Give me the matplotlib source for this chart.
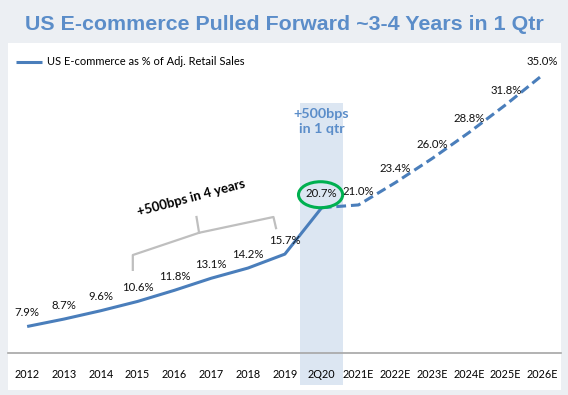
import matplotlib.pyplot as plt
from matplotlib.patches import Rectangle, Ellipse

# Data
periods = ['2012', '2013', '2014', '2015', '2016', '2017', '2018', '2019', '2Q20',
           '2021E', '2022E', '2023E', '2024E', '2025E', '2026E']
share = [7.9, 8.7, 9.6, 10.6, 11.8, 13.1, 14.2, 15.7, 20.7,
         21.0, 23.4, 26.0, 28.8, 31.8, 35.0]
actual_end = 8  # 2Q20 is the last actual point

blue = '#4a7ebb'
title_blue = '#5b8dc9'
font = ['Lato', 'DejaVu Sans']
plt.rcParams['font.family'] = font

fig = plt.figure(figsize=(5.68, 3.95), dpi=100, facecolor='#eceff3')
# white panel behind the chart
fig.add_artist(Rectangle((8 / 568, 5 / 395), 553 / 568, 347 / 395, transform=fig.transFigure,
                         facecolor='white', edgecolor='none', zorder=-10))

ax = fig.add_axes([8 / 568, 41.6 / 395, 553 / 568, 310.4 / 395])
ax.patch.set_alpha(0)
x = list(range(len(periods)))

# highlighted quarter band, running down through the tick labels
ax.add_patch(Rectangle((actual_end - 0.58, 1.6), 1.16, 30.4, facecolor='#dce6f2',
                       edgecolor='none', clip_on=False, zorder=0))

ax.plot(x[:actual_end + 1], share[:actual_end + 1], color=blue, lw=2.2,
        label='US E-commerce as % of Adj. Retail Sales', zorder=3, solid_capstyle='butt')
ax.plot(x[actual_end:], share[actual_end:], color=blue, lw=2.2, dashes=(3.2, 1.6), zorder=3)

for xi, v in zip(x, share):
    ax.annotate(f'{v:.1f}%', (xi, v), xytext=(0, 10), textcoords='offset points',
                ha='center', va='center', fontsize=8.2, color='#111111')

# circle around the 2Q20 value
ax.add_patch(Ellipse((actual_end - 0.03, share[actual_end] + 1.4), 1.2, 2.8, fill=False,
                     edgecolor='#00b050', lw=2.2, zorder=4))

ax.text(actual_end, 30.0, '+500bps\nin 1 qtr', ha='center', va='center', fontsize=10.3,
        fontweight='bold', color=title_blue, linespacing=1.25)

# bracket over 2015-2019
bx = [2.87, 2.87, 4.67, 6.69, 6.76]
by = [14.0, 15.6, 18.0, 19.7, 18.5]
ax.plot(bx, by, color='#bfbfbf', lw=1.6, zorder=2)
ax.plot([4.67, 4.6], [18.0, 19.7], color='#bfbfbf', lw=1.6, zorder=2)
ax.text(4.45, 21.8, '+500bps in 4 years', rotation=15, ha='center', va='center',
        fontsize=9.5, fontweight='bold', color='black')

ax.set_xlim(-0.52, 14.5)
ax.set_ylim(5.0, 38.45)
ax.set_xticks(x, periods, fontsize=7.8)
ax.tick_params(axis='x', length=0, pad=11)
ax.set_yticks([])
for s in ['top', 'left', 'right']:
    ax.spines[s].set_visible(False)
ax.spines['bottom'].set_color('#a6a6a6')
ax.spines['bottom'].set_linewidth(1.2)

ax.legend(loc='upper left', bbox_to_anchor=(12 / 568, 1 - 52 / 395), bbox_transform=fig.transFigure,
          frameon=False, fontsize=8, handlelength=2.3, handletextpad=0.45, borderaxespad=0)

fig.text(0.5, 1 - 24 / 395, 'US E-commerce Pulled Forward ~3-4 Years in 1 Qtr', ha='center',
         va='center', fontsize=15.4, fontweight='bold', color=title_blue, family='Liberation Sans')

plt.savefig('out.png', dpi=100, facecolor=fig.get_facecolor())
